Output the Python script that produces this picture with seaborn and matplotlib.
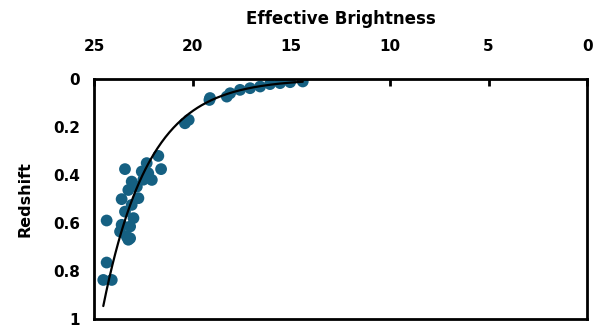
import seaborn as sns
import matplotlib.pyplot as plt
import pandas as pd
import numpy as np

# Datos
brightness = [14.42, 15.06, 15.57, 16.08, 16.58, 17.09, 17.60, 18.10, 18.27, 19.12, 19.15,
              20.20, 20.39, 21.74, 21.60, 23.43, 22.33, 22.58, 22.07, 23.09, 22.83, 23.26,
              22.75, 23.60, 23.09, 23.43, 23.00, 24.36, 23.60, 23.17, 23.68, 23.34, 23.17,
              22.50, 22.25, 24.36, 24.53, 24.10, 23.26]
redshift = [0.011, 0.014, 0.018, 0.022, 0.032, 0.039, 0.046, 0.060, 0.074, 0.080, 0.088,
            0.171, 0.185, 0.321, 0.376, 0.376, 0.351, 0.386, 0.421, 0.428, 0.449, 0.463,
            0.497, 0.501, 0.525, 0.553, 0.580, 0.590, 0.608, 0.615, 0.636, 0.657, 0.664,
            0.420, 0.393, 0.765, 0.8375, 0.8375, 0.670]

df = pd.DataFrame({'brightness': brightness, 'redshift': redshift})

# Línea de tendencia exponencial (como en Excel)
b, a = np.polyfit(df['brightness'], np.log(df['redshift']), 1)
x_fit = np.linspace(df['brightness'].min(), df['brightness'].max(), 200)
y_fit = np.exp(a) * np.exp(b * x_fit)

sns.set_style('white')
plt.rcParams['font.family'] = ['DejaVu Sans']
plt.rcParams['text.color'] = 'black'
plt.rcParams['axes.labelcolor'] = 'black'
plt.rcParams['xtick.color'] = 'black'
plt.rcParams['ytick.color'] = 'black'

fig = plt.figure(figsize=(5.95, 3.34), dpi=100)
ax = fig.add_axes([0.158, 0.045, 0.829, 0.719])

sns.scatterplot(data=df, x='brightness', y='redshift', ax=ax, color='#156082',
                s=72, edgecolor='none', zorder=2)
ax.plot(x_fit, y_fit, color='black', linewidth=1.6, zorder=3)

ax.set_xlim(25, 0)
ax.set_ylim(1, 0)
ax.set_xticks([25, 20, 15, 10, 5, 0])
ax.set_yticks([0, 0.2, 0.4, 0.6, 0.8, 1])
ax.set_yticklabels(['0', '0.2', '0.4', '0.6', '0.8', '1'])
ax.xaxis.tick_top()
ax.xaxis.set_label_position('top')
ax.tick_params(axis='both', direction='in', length=5, width=2, labelsize=11)
ax.tick_params(axis='x', pad=18)
ax.tick_params(axis='y', pad=10)
for lbl in ax.get_xticklabels() + ax.get_yticklabels():
    lbl.set_fontweight('bold')

ax.set_xlabel('Effective Brightness', fontsize=12, fontweight='bold', labelpad=11)
ax.set_ylabel('Redshift', fontsize=11.5, fontweight='bold', labelpad=15)

for sp in ax.spines.values():
    sp.set_linewidth(2)
    sp.set_color('black')

plt.savefig('out.png', dpi=100)
